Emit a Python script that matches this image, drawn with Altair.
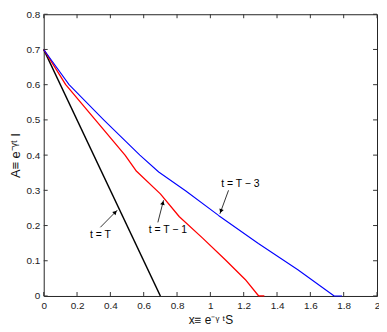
import altair as alt
import pandas as pd

# ---- data ----
black_x = [0.0, 0.7]
black_y = [0.7, 0.0]
red_x = [0.0, 0.132, 0.31, 0.488, 0.557, 0.70, 0.814, 0.952, 1.091, 1.209, 1.29, 1.324]
red_y = [0.7, 0.6, 0.5, 0.4, 0.354, 0.29, 0.225, 0.165, 0.102, 0.047, 0.0, 0.0]
blue_x = [0.0, 0.152, 0.36, 0.577, 0.69, 0.853, 1.051, 1.288, 1.525, 1.743, 1.79]
blue_y = [0.7, 0.6, 0.5, 0.4, 0.352, 0.298, 0.228, 0.149, 0.0745, 0.0, 0.0]

x_ticks = [0, 0.2, 0.4, 0.6, 0.8, 1.0, 1.2, 1.4, 1.6, 1.8, 2.0]
y_ticks = [0, 0.1, 0.2, 0.3, 0.4, 0.5, 0.6, 0.7, 0.8]

ann_text = ["t = T", "t = T − 1", "t = T − 3"]
ann_tx = [0.34, 0.745, 1.18]
ann_ty = [0.172, 0.188, 0.318]
arrow_x0 = [0.340, 0.685, 1.109]
arrow_y0 = [0.195, 0.209, 0.300]
arrow_x1 = [0.442, 0.719, 1.057]
arrow_y1 = [0.244, 0.272, 0.233]
arrow_angle = [45, 14, 200]

W, H = 336, 284
FONT = "Liberation Sans"

rows = []
for name, xs_, ys_ in [("T", black_x, black_y), ("T-1", red_x, red_y), ("T-3", blue_x, blue_y)]:
    for i, (a, b) in enumerate(zip(xs_, ys_)):
        rows.append({"series": name, "x": a, "y": b, "i": i})
df = pd.DataFrame(rows)

xs = alt.Scale(domain=[0, 2], nice=False)
ys = alt.Scale(domain=[0, 0.8], nice=False)
xax = alt.Axis(values=x_ticks, format="~g", title="x≡ e⁻ᵞ ᵗS", tickSize=0, grid=False,
               labelPadding=5, titlePadding=4, labelOverlap=False, labelFlush=False,
               titleFontSize=12)
yax = alt.Axis(values=y_ticks, format="~g", title="A≡ e⁻ᵞᵗ  I", tickSize=0, grid=False,
               labelPadding=4, titlePadding=3, labelOverlap=False, labelFlush=False,
               titleFontSize=13)


def X(f):
    return alt.X(f, scale=xs, axis=xax)


def Y(f):
    return alt.Y(f, scale=ys, axis=yax)


lines = alt.Chart(df).mark_line(strokeJoin="round").encode(
    x=X("x:Q"), y=Y("y:Q"),
    color=alt.Color("series:N", scale=alt.Scale(domain=["T", "T-1", "T-3"],
                                                range=["#000000", "#ff0000", "#0000ff"]), legend=None),
    strokeWidth=alt.StrokeWidth("series:N", scale=alt.Scale(domain=["T", "T-1", "T-3"],
                                                            range=[1.5, 1.1, 1.1]), legend=None),
    order="i:Q",
)

tdf = pd.DataFrame({"t": x_ticks})
ydf = pd.DataFrame({"t": y_ticks})
tick_x_bot = alt.Chart(tdf).mark_rule(color="#333", strokeWidth=1).encode(
    x=X("t:Q"), y=alt.value(H), y2=alt.value(H - 4))
tick_x_top = alt.Chart(tdf).mark_rule(color="#333", strokeWidth=1).encode(
    x=X("t:Q"), y=alt.value(0), y2=alt.value(4))
tick_y_l = alt.Chart(ydf).mark_rule(color="#333", strokeWidth=1).encode(
    y=Y("t:Q"), x=alt.value(0), x2=alt.value(4))
tick_y_r = alt.Chart(ydf).mark_rule(color="#333", strokeWidth=1).encode(
    y=Y("t:Q"), x=alt.value(W), x2=alt.value(W - 4))

adf = pd.DataFrame({"text": ann_text, "tx": ann_tx, "ty": ann_ty,
                    "x0": arrow_x0, "y0": arrow_y0, "x1": arrow_x1, "y1": arrow_y1,
                    "ang": arrow_angle})
adf["hx"] = adf["x1"] + (adf["x0"] - adf["x1"]) * 0.12
adf["hy"] = adf["y1"] + (adf["y0"] - adf["y1"]) * 0.12

texts = alt.Chart(adf).mark_text(font=FONT, fontSize=10.5, color="#000").encode(
    x=X("tx:Q"), y=Y("ty:Q"), text="text:N")
arrows = alt.Chart(adf).mark_rule(color="#000", strokeWidth=0.8).encode(
    x=X("x0:Q"), y=Y("y0:Q"), x2="x1:Q", y2="y1:Q")
heads = alt.Chart(adf).mark_point(shape="triangle-up", filled=True, size=22, color="#000", opacity=1).encode(
    x=X("hx:Q"), y=Y("hy:Q"), angle=alt.Angle("ang:Q", scale=None))

chart = alt.layer(lines, tick_x_bot, tick_x_top, tick_y_l, tick_y_r, arrows, heads, texts).properties(
    width=W, height=H,
    autosize=alt.AutoSizeParams(type="none"),
    padding={"left": 36, "top": 5, "right": 2, "bottom": 33},
).configure_view(stroke="#222", strokeWidth=1).configure_axis(
    domain=False, labelFont=FONT, labelFontSize=10, labelColor="#222",
    titleFont=FONT, titleFontWeight="normal", titleColor="#111",
)

chart.save("out.html", embed_options={"renderer": "svg", "actions": False})
